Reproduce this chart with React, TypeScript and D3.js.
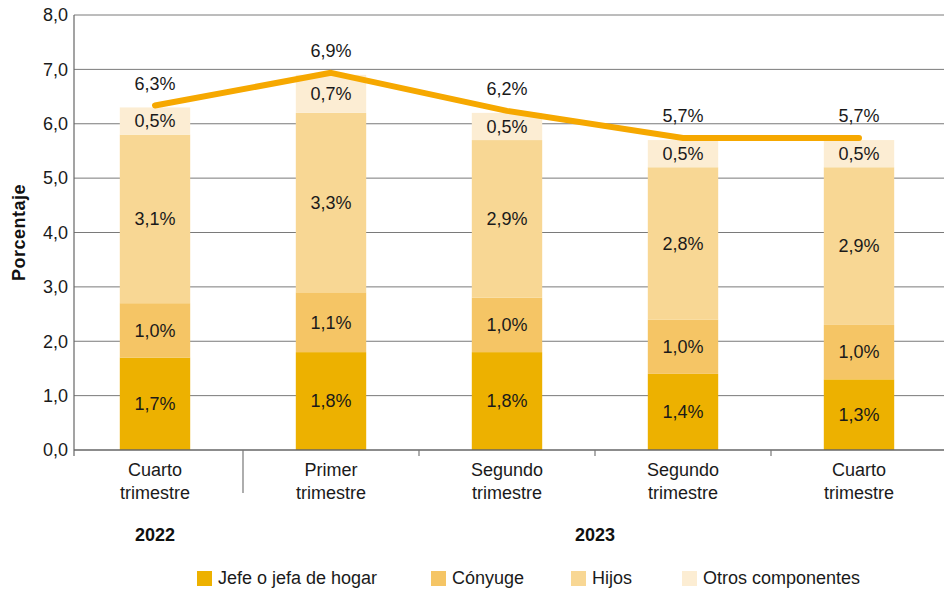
import React from "react";
import * as d3 from "d3";

const categories = [
  ["Cuarto", "trimestre"],
  ["Primer", "trimestre"],
  ["Segundo", "trimestre"],
  ["Segundo", "trimestre"],
  ["Cuarto", "trimestre"],
];
const years = [
  { label: "2022", from: 0, to: 0 },
  { label: "2023", from: 1, to: 4 },
];
const seriesNames = ["Jefe o jefa de hogar", "Cónyuge", "Hijos", "Otros componentes"];
const jefe = [1.7, 1.8, 1.8, 1.4, 1.3];
const conyuge = [1.0, 1.1, 1.0, 1.0, 1.0];
const hijos = [3.1, 3.3, 2.9, 2.8, 2.9];
const otros = [0.5, 0.7, 0.5, 0.5, 0.5];
const total = [6.3, 6.9, 6.2, 5.7, 5.7];
const yTicks = [0, 1, 2, 3, 4, 5, 6, 7, 8];

const colors = ["#EDB100", "#F5C565", "#F8D794", "#FCEDD3"];
const lineColor = "#F6A800";
const font = "'Liberation Sans', Arial, Helvetica, sans-serif";

const W = 944;
const H = 593;

export default function App() {
  const x = d3.scaleBand<number>().domain(d3.range(categories.length)).range([67, 947]).paddingInner(0.6).paddingOuter(0.3);
  const y = d3.scaleLinear().domain([0, 8]).range([450, 15]);
  const axisLeft = 74;
  const right = W;

  const rows = categories.map((_, i) => ({ i, s0: jefe[i], s1: conyuge[i], s2: hijos[i], s3: otros[i] }));
  const stack = d3.stack<any>().keys(["s0", "s1", "s2", "s3"])(rows);
  const fmt = (v: number) => v.toFixed(1).replace(".", ",");
  const cx = (i: number) => (x(i) as number) + x.bandwidth() / 2;

  const line = d3
    .line<number>()
    .x((_, i) => cx(i))
    .y((d) => y(d) - 2);

  const boundaries = d3.range(1, categories.length).map((i) => (cx(i - 1) + cx(i)) / 2);
  const legendX = [197, 431, 571, 682];
  const fs = 18;

  return (
    <svg width={W} height={H} style={{ position: "absolute", left: 0, top: 0 }} fontFamily={font}>
      <rect width={W} height={H} fill="#fff" />
      {yTicks.map((t) => (
        <g key={t}>
          {t > 0 && <line x1={axisLeft} x2={right} y1={y(t)} y2={y(t)} stroke="#7a7a7a" strokeWidth={1} />}
          <text x={axisLeft - 6} y={y(t)} dy="0.35em" textAnchor="end" fontSize={fs} fill="#1a1a1a">
            {fmt(t)}
          </text>
        </g>
      ))}
      {stack.map((layer, k) =>
        layer.map((d, i) => (
          <rect
            key={`${k}-${i}`}
            x={x(i)}
            y={y(d[1])}
            width={x.bandwidth()}
            height={y(d[0]) - y(d[1])}
            fill={colors[k]}
          />
        ))
      )}
      {stack.map((layer, k) =>
        layer.map((d, i) => (
          <text
            key={`t${k}-${i}`}
            x={cx(i)}
            y={(y(d[0]) + y(d[1])) / 2}
            dy="0.35em"
            textAnchor="middle"
            fontSize={fs}
            fill="#1a1a1a"
          >
            {fmt(d[1] - d[0])}%
          </text>
        ))
      )}
      <line x1={axisLeft} x2={right} y1={y(0)} y2={y(0)} stroke="#666" strokeWidth={1.5} />
      <line x1={axisLeft} x2={axisLeft} y1={y(8)} y2={y(0) + 6} stroke="#666" strokeWidth={1.2} />
      {boundaries.map((bx, i) => (
        <line key={i} x1={bx} x2={bx} y1={y(0)} y2={i === 0 ? y(0) + 43 : y(0) + 6} stroke="#777" strokeWidth={1.2} />
      ))}
      <path d={line(total) || ""} fill="none" stroke={lineColor} strokeWidth={6} strokeLinecap="round" strokeLinejoin="round" />
      {total.map((v, i) => (
        <text key={`tot${i}`} x={cx(i)} y={y(v) - 24} dy="0.35em" textAnchor="middle" fontSize={fs} fill="#1a1a1a">
          {fmt(v)}%
        </text>
      ))}
      {categories.map((c, i) => (
        <text key={`c${i}`} x={cx(i)} y={476} textAnchor="middle" fontSize={fs} fill="#1a1a1a">
          <tspan x={cx(i)}>{c[0]}</tspan>
          <tspan x={cx(i)} dy={23}>
            {c[1]}
          </tspan>
        </text>
      ))}
      {years.map((yr) => (
        <text
          key={yr.label}
          x={(cx(yr.from) + cx(yr.to)) / 2}
          y={541}
          textAnchor="middle"
          fontSize={fs}
          fontWeight="bold"
          fill="#111"
        >
          {yr.label}
        </text>
      ))}
      <text
        transform={`translate(25, ${(y(0) + y(8)) / 2}) rotate(-90)`}
        textAnchor="middle"
        fontSize={18}
        fontWeight="bold"
        letterSpacing={0.5}
        fill="#111"
      >
        Porcentaje
      </text>
      {seriesNames.map((n, k) => (
        <g key={n} transform={`translate(${legendX[k]}, 571)`}>
          <rect width={15} height={15} fill={colors[k]} />
          <text x={21} y={13} fontSize={fs} fill="#1a1a1a">
            {n}
          </text>
        </g>
      ))}
    </svg>
  );
}
